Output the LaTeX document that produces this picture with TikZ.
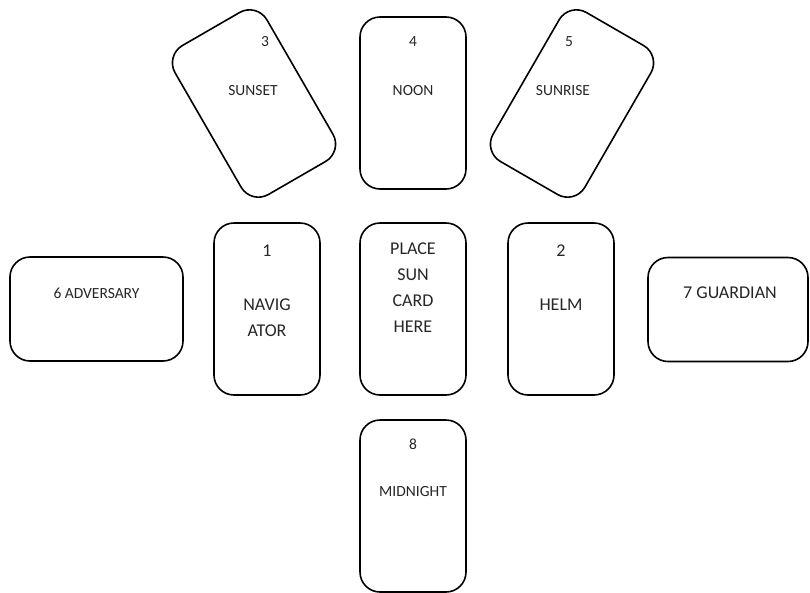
\documentclass[tikz,border=0pt]{standalone}
\usepackage{fontspec}
\setmainfont{Carlito}
\begin{document}
\begin{tikzpicture}[x=1pt,y=-1pt,
  card/.style={draw=black, line width=1.6pt, rounded corners=20pt, inner sep=0pt, minimum width=106pt, minimum height=172pt},
  wide/.style={draw=black, line width=1.6pt, rounded corners=20pt, inner sep=0pt, minimum height=104pt},
  small/.style={font=\fontsize{15.5}{18}\selectfont, inner sep=0pt, text=black!85},
  big/.style={font=\fontsize{18}{26}\selectfont, inner sep=0pt, text=black!85, align=center}]
\useasboundingbox (0,0) rectangle (810,592);
% cards
\node[card, rotate=30] (c3) at (254,103.5) {};
\node[card] (c4) at (413,103) {};
\node[card, rotate=-30] (c5) at (572,103.5) {};
\node[card] (c1) at (267,309) {};
\node[card] (c0) at (413,309) {};
\node[card] (c2) at (561,309) {};
\node[wide, minimum width=173pt] (c6) at (96.5,309) {};
\node[wide, minimum width=160pt] (c7) at (728,309.5) {};
\node[card] (c8) at (413,506) {};
% texts
\node[small] (t3) at (265,42) {3};
\node[small] (n3) at (253,91) {SUNSET};
\node[small] (t4) at (413,42) {4};
\node[small] (n4) at (413,91) {NOON};
\node[small] (t5) at (569,42) {5};
\node[small] (n5) at (563,91) {SUNRISE};
\node[small] (t8) at (413,444) {8};
\node[small] (n8) at (413,492) {MIDNIGHT};
\node[small] (n6) at (96.5,293) {6 ADVERSARY};
\node[big] (n7) at (730,293) {7 GUARDIAN};
\node[big] (t1) at (267,251) {1};
\node[big] (n1) at (267,318) {NAVIG\\ATOR};
\node[big] (n0) at (413,287.5) {PLACE\\SUN\\CARD\\HERE};
\node[big] (t2) at (561,251) {2};
\node[big] (n2) at (561,305) {HELM};
\end{tikzpicture}
\end{document}
